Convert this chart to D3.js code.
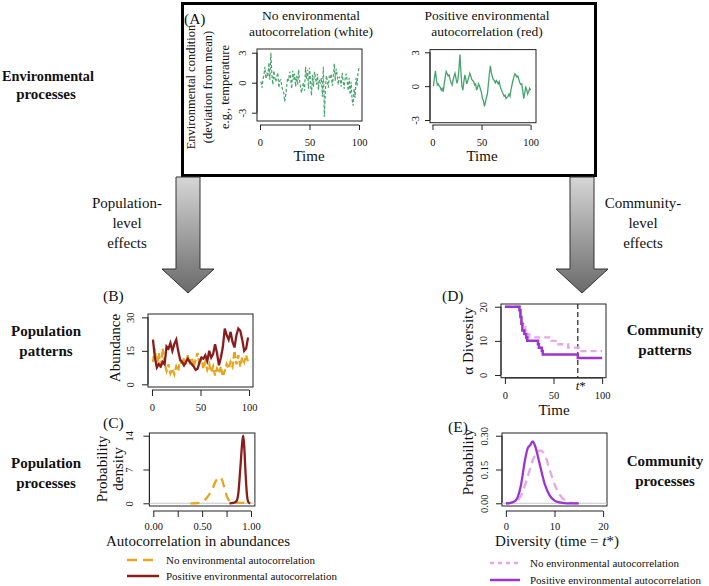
<!DOCTYPE html>
<html><head><meta charset="utf-8">
<script src="https://cdn.jsdelivr.net/npm/d3@7"></script>
<style>
body{margin:0;background:#fff}
svg{display:block}
text{font-family:"Liberation Serif","Times New Roman",serif;fill:#111}
</style>
</head><body>
<svg id="c" width="709" height="586"></svg>
<script>
// ---------- DATA ----------
// Panel A: environmental condition (deviation from mean), time 1..100
const envWhite = [
 0.1,-0.5,0.3,0.8,1.6,0.4,1.0,0.6,2.0,0.3,
 3.0,0.8,-0.2,1.2,0.5,0.1,0.6,1.0,-0.5,0.2,
 0.3,-0.3,-0.8,-1.0,-1.9,-1.2,-0.3,0.5,0.2,1.1,
 0.4,-0.6,1.2,0.3,0.9,-0.4,0.7,-0.2,1.3,0.2,
 -0.5,-1.0,-0.3,0.0,-0.8,1.6,0.4,1.3,-0.6,1.5,
 0.2,-1.3,0.8,-0.4,1.1,0.6,-0.2,0.9,-0.7,0.3,
 -0.1,0.5,-1.4,1.6,-3.4,-0.8,0.7,0.2,-0.5,0.6,
 0.4,0.9,-0.3,0.5,1.9,0.2,1.4,0.8,-0.2,0.6,
 0.3,-0.4,1.0,0.1,-0.6,0.4,0.9,0.2,-0.8,0.5,
 -1.2,0.1,-1.7,-2.3,-0.6,-1.5,0.5,-0.3,1.0,1.5];
const envRed = [
 0.0,0.7,1.35,0.6,0.1,0.2,0.0,-0.1,-0.35,-0.2,
 -0.5,0.2,0.8,1.3,1.1,0.9,1.0,0.6,0.3,0.1,
 0.5,0.9,1.15,0.7,0.25,0.6,1.5,2.8,1.3,0.0,
 -0.35,0.4,1.0,0.6,0.2,0.5,0.8,1.15,0.9,0.6,
 0.5,0.4,0.1,0.2,-0.35,-0.1,0.2,0.0,-0.3,-0.6,
 -1.1,-1.3,-1.8,-1.4,-1.0,-0.7,0.2,1.1,1.8,1.2,
 0.85,0.6,0.5,0.3,0.5,0.4,0.2,0.4,0.0,-0.3,
 -0.5,-0.7,-0.9,-0.8,-1.1,-1.0,-0.9,-0.7,-0.9,-0.3,
 0.1,0.5,0.8,1.1,1.0,0.8,0.9,0.6,0.3,0.15,
 0.2,-0.4,-1.1,-0.6,-0.1,-0.3,-0.7,-0.5,-0.2,-0.35];
const timeTicks = [0,50,100];
const envTicks = [-3,0,3];

// Panel B: abundance over time (every second time step)
const popTimes = [1,3,5,7,9,11,13,15,17,19,21,23,25,27,29,31,33,35,37,39,41,43,45,47,49,
                  51,53,55,57,59,61,63,65,67,69,71,73,75,77,79,81,83,85,87,89,91,93,95,97,99];
const abundNoAuto = [10,16,8,14,7,16,9,6,9,5,7,4.5,8,6,11,8.5,12,9,13,10,12,8,11,14,9,
                     12,7,10,6.5,9,5.5,8,4,7,5,8,3.5,6,9,7,10,8,15,9,13,8,12,10,13,10];
const abundPosAuto = [20,12,7.5,9,8,10,9,17,16,18.5,15,18,20,15,11,10,8.5,10,11.5,10,9,8,6.5,7,9.8,
                      12,11.5,13,10.5,15,12,13.5,18,14,8.5,12,16.6,25,22,20,23.5,19,16.5,22,25,24,20,15,16,21];
const abundTicks = [0,15,30];

// Panel C: probability density of autocorrelation in abundances
const cNoX = [0.38,0.45,0.5,0.55,0.6,0.64,0.67,0.7,0.73,0.76,0.8,0.85,0.9,0.95,1.0];
const cNoY = [0,0.05,0.3,1.2,2.8,4.6,5.4,5.0,3.0,1.1,0.3,0.12,0.1,0.1,0.02];
const cPosX = [0.78,0.82,0.85,0.87,0.89,0.91,0.92,0.93,0.945,0.96,0.975,0.99];
const cPosY = [0,0.1,0.4,2,7,12.5,14,12,6,1.5,0.2,0];
const acTicks = [0,0.25,0.5,0.75,1];
const acLabelled = [0,0.5,1];
const densTicks = [0,7,14];

// Panel D: alpha diversity over time (step changes)
const dPosT = [0,15,16,17,18,20,22,23,34,35,38,39,75,100];
const dPosV = [20,19,17,15,13,12,11,10,9,8,7,6,5,5];
const dNoT  = [0,15,16,17,19,21,23,25,48,55,65,76,100];
const dNoV  = [20,19,17,15,14,13,12,11,10,9,8,7,7];
const tStar = 75;
const divTicks = [0,10,20];

// Panel E: probability of diversity at time t*
const eX    = [0,1,2,3,4,4.5,5,5.5,6,7,8,9,10,11,12,13,14,15];
const ePosY = [0,0.002,0.012,0.07,0.20,0.245,0.258,0.275,0.255,0.17,0.085,0.035,0.012,0.004,0.001,0,0,0];
const eNoY  = [0,0.002,0.008,0.03,0.085,0.12,0.155,0.19,0.212,0.235,0.215,0.15,0.085,0.04,0.015,0.005,0.001,0];
const eXTicks = [0,10,20];
const probTicks = [0,0.15,0.3];

// colours
const GREEN="#46a36b", ORANGE="#e9a41d", DRED="#8b1c1c", PURPLE="#9a35cf", PINK="#e8a5ec";

// ---------- DRAWING ----------
const svg = d3.select("#c");
const SERIF = '"Liberation Serif","Times New Roman",serif';

function panel(c){
  const x = d3.scaleLinear().domain(c.xDom).range([c.x0,c.x1]);
  const y = d3.scaleLinear().domain(c.yDom).range([c.y1,c.y0]);
  const g = svg.append("g");
  const tick = c.tick || 6;
  const ya = g.append("g").attr("transform",`translate(${c.x0},0)`)
    .call(d3.axisLeft(y).tickValues(c.yTicks).tickSize(tick).tickFormat(c.yFmt || (d=>String(d))));
  ya.select(".domain").attr("d",`M0,${y(c.yTicks[0])}V${y(c.yTicks[c.yTicks.length-1])}`);
  ya.selectAll(".tick text").attr("transform","rotate(-90)").attr("x",0).attr("y",-c.yLabD).attr("dy",0).attr("text-anchor","middle");
  const xa = g.append("g").attr("transform",`translate(0,${c.axisY})`)
    .call(d3.axisBottom(x).tickValues(c.xTicks).tickSize(tick).tickFormat(c.xFmt || (d=>String(d))));
  xa.select(".domain").attr("d",`M${x(c.xTicks[0])},0H${x(c.xTicks[c.xTicks.length-1])}`);
  xa.selectAll(".tick text").attr("y",c.xLabBase-c.axisY).attr("dy",0);
  [ya,xa].forEach(a=>{
    a.attr("font-family",SERIF).attr("font-size",10.5);
    a.selectAll("path,line").attr("stroke","#222");
    a.selectAll("text").attr("fill","#111");
  });
  g.append("rect").attr("x",c.x0).attr("y",c.y0).attr("width",c.x1-c.x0).attr("height",c.y1-c.y0)
    .attr("fill","none").attr("stroke","#222").attr("stroke-width",1);
  return {x,y,g};
}
function txt(x,y,s,opt={}){
  const t = svg.append("text").attr("x",x).attr("y",y).attr("text-anchor",opt.anchor||"middle")
    .attr("font-size",opt.size||14).text(s);
  if(opt.bold) t.attr("font-weight","bold");
  if(opt.rot) t.attr("transform",`rotate(-90,${x},${y})`);
  if(opt.italic) t.attr("font-style","italic");
  if(opt.len) t.attr("textLength",opt.len).attr("lengthAdjust","spacingAndGlyphs");
  return t;
}

// ---- Box A ----
svg.append("rect").attr("x",182.5).attr("y",3.5).attr("width",413).attr("height",172)
  .attr("fill","none").attr("stroke","#000").attr("stroke-width",3);
txt(184,24,"(A)",{anchor:"start",size:15.5});
txt(311,20,"No environmental",{size:13.5});
txt(311,36,"autocorrelation (white)",{size:13.5});
txt(487,20,"Positive environmental",{size:13.5});
txt(487,36,"autocorrelation (red)",{size:13.5});
txt(195,87,"Environmental condition",{rot:true,size:12.5});
txt(212,87,"(deviation from mean)",{rot:true,size:12.5});
txt(229,87,"e.g., temperature",{rot:true,size:12.5});

const pA1 = panel({x0:257,x1:362,y0:49,y1:121,xDom:[-3,103],yDom:[-3.83,3.37],
  xTicks:timeTicks,yTicks:envTicks,axisY:125,xLabBase:146,yLabD:11,tick:5});
pA1.g.append("path").datum(envWhite).attr("fill","none").attr("stroke",GREEN).attr("stroke-width",1.2)
  .attr("stroke-dasharray","3,2")
  .attr("d",d3.line().x((d,i)=>pA1.x(i+1)).y(d=>pA1.y(d)));
txt(309,161,"Time",{size:15});

const pA2 = panel({x0:430,x1:536,y0:49.6,y1:122.7,xDom:[-2.5,105.5],yDom:[-3.24,3.24],
  xTicks:timeTicks,yTicks:envTicks,axisY:125,xLabBase:146,yLabD:11,tick:5});
pA2.g.append("path").datum(envRed).attr("fill","none").attr("stroke",GREEN).attr("stroke-width",1.3)
  .attr("d",d3.line().x((d,i)=>pA2.x(i+1)).y(d=>pA2.y(d)));
txt(482,161,"Time",{size:15});

// ---- left / right labels ----
txt(48,81,"Environmental",{bold:true,size:15,len:92});
txt(46,99,"processes",{bold:true,size:15});
txt(46,336,"Population",{bold:true,size:15});
txt(46,356,"patterns",{bold:true,size:15});
txt(46,468,"Population",{bold:true,size:15});
txt(46,488,"processes",{bold:true,size:15});
txt(665,335,"Community",{bold:true,size:15});
txt(665,355,"patterns",{bold:true,size:15});
txt(665,466,"Community",{bold:true,size:15});
txt(665,486,"processes",{bold:true,size:15});

// ---- arrows ----
const defs = svg.append("defs");
const grad = defs.append("linearGradient").attr("id","ag").attr("x1",0).attr("y1",0).attr("x2",0).attr("y2",1);
grad.append("stop").attr("offset","0%").attr("stop-color","#d6d6d6");
grad.append("stop").attr("offset","100%").attr("stop-color","#6a6a6a");
function arrow(cx){
  const sw=12, hw=26, top=177, headTop=269, tip=293;
  svg.append("path").attr("d",`M${cx-sw},${top}H${cx+sw}V${headTop}H${cx+hw}L${cx},${tip}L${cx-hw},${headTop}H${cx-sw}Z`)
    .attr("fill","url(#ag)").attr("stroke","#333").attr("stroke-width",1);
}
arrow(188); arrow(582);
txt(127,208,"Population-",{size:15});
txt(127,228,"level",{size:15});
txt(127,248,"effects",{size:15});
txt(643,208,"Community-",{size:15});
txt(643,228,"level",{size:15});
txt(643,248,"effects",{size:15});

// ---- Panel B ----
txt(103,301,"(B)",{anchor:"start",size:15.5});
const pB = panel({x0:148,x1:253,y0:314,y1:387,xDom:[-4.1,104.1],yDom:[-1.2,31.5],
  xTicks:timeTicks,yTicks:abundTicks,axisY:390,xLabBase:411,yLabD:14});
pB.g.append("path").datum(abundNoAuto).attr("fill","none").attr("stroke",ORANGE).attr("stroke-width",2.3)
  .attr("stroke-dasharray","6,3")
  .attr("d",d3.line().x((d,i)=>pB.x(popTimes[i])).y(d=>pB.y(d)));
pB.g.append("path").datum(abundPosAuto).attr("fill","none").attr("stroke",DRED).attr("stroke-width",2.3)
  .attr("d",d3.line().x((d,i)=>pB.x(popTimes[i])).y(d=>pB.y(d)));
txt(120,348,"Abundance",{rot:true,size:15});

// ---- Panel C ----
txt(103,428,"(C)",{anchor:"start",size:15.5});
const pC = panel({x0:149.4,x1:254.9,y0:433,y1:506,xDom:[-0.04,1.04],yDom:[-0.56,14.56],
  xTicks:acTicks,yTicks:densTicks,axisY:511,xLabBase:530,yLabD:16,
  xFmt:d=>acLabelled.includes(d)?d3.format(".2f")(d):""});
pC.g.append("line").attr("x1",pC.x(-0.04)).attr("x2",pC.x(1.04)).attr("y1",pC.y(0)).attr("y2",pC.y(0))
  .attr("stroke","#c8c8c8").attr("stroke-width",1);
pC.g.append("path").datum(cNoY).attr("fill","none").attr("stroke",ORANGE).attr("stroke-width",2.3)
  .attr("stroke-dasharray","9,6")
  .attr("d",d3.line().curve(d3.curveMonotoneX).x((d,i)=>pC.x(cNoX[i])).y(d=>pC.y(d)));
pC.g.append("path").datum(cPosY).attr("fill","none").attr("stroke",DRED).attr("stroke-width",2.3)
  .attr("d",d3.line().curve(d3.curveMonotoneX).x((d,i)=>pC.x(cPosX[i])).y(d=>pC.y(d)));
txt(107,469,"Probability",{rot:true,size:15});
txt(123,469,"density",{rot:true,size:15});
txt(198,546,"Autocorrelation in abundances",{size:15});

// ---- Panel D ----
txt(442,301,"(D)",{anchor:"start",size:15.5});
const pD = panel({x0:501,x1:606,y0:304,y1:377.7,xDom:[-4,104],yDom:[-0.8,20.8],
  xTicks:timeTicks,yTicks:divTicks,axisY:378,xLabBase:399,yLabD:14});
pD.g.append("line").attr("x1",pD.x(tStar)).attr("x2",pD.x(tStar)).attr("y1",304).attr("y2",377.7)
  .attr("stroke","#222").attr("stroke-width",1.2).attr("stroke-dasharray","5,3");
pD.g.append("path").datum(dNoV).attr("fill","none").attr("stroke",PINK).attr("stroke-width",2.3)
  .attr("stroke-dasharray","6,4")
  .attr("d",d3.line().curve(d3.curveStepAfter).x((d,i)=>pD.x(dNoT[i])).y(d=>pD.y(d)));
pD.g.append("path").datum(dPosV).attr("fill","none").attr("stroke",PURPLE).attr("stroke-width",2.5)
  .attr("d",d3.line().curve(d3.curveStepAfter).x((d,i)=>pD.x(dPosT[i])).y(d=>pD.y(d)));
const ts = svg.append("text").attr("x",pD.x(tStar)+3).attr("y",390).attr("text-anchor","middle").attr("font-size",13);
ts.append("tspan").attr("font-style","italic").text("t");
ts.append("tspan").text("*");
txt(554,415,"Time",{size:15});
txt(473,341,"α  Diversity",{rot:true,size:15});

// ---- Panel E ----
txt(448,432,"(E)",{anchor:"start",size:15.5});
const pE = panel({x0:502,x1:607,y0:433,y1:506,xDom:[-0.8,20.8],yDom:[-0.012,0.312],
  xTicks:eXTicks,yTicks:probTicks,axisY:511,xLabBase:530,yLabD:14,
  yFmt:d3.format(".2f")});
pE.g.append("line").attr("x1",502).attr("x2",607).attr("y1",pE.y(0)).attr("y2",pE.y(0))
  .attr("stroke","#c8c8c8").attr("stroke-width",1);
pE.g.append("path").datum(eNoY).attr("fill","none").attr("stroke",PINK).attr("stroke-width",2.3)
  .attr("stroke-dasharray","8,5")
  .attr("d",d3.line().curve(d3.curveMonotoneX).x((d,i)=>pE.x(eX[i])).y(d=>pE.y(d)));
pE.g.append("path").datum(ePosY).attr("fill","none").attr("stroke",PURPLE).attr("stroke-width",2.3)
  .attr("d",d3.line().curve(d3.curveMonotoneX).x((d,i)=>pE.x(eX[i])).y(d=>pE.y(d)));
txt(473,462,"Probability",{rot:true,size:15});
const dl = svg.append("text").attr("x",557).attr("y",546).attr("text-anchor","middle").attr("font-size",15);
dl.append("tspan").text("Diversity (time = ");
dl.append("tspan").attr("font-style","italic").text("t");
dl.append("tspan").text("*)");

// ---- Legends ----
const legL = [{label:"No environmental autocorrelation",color:ORANGE,dash:"10,6",y:560},
              {label:"Positive environmental autocorrelation",color:DRED,dash:null,y:576}];
legL.forEach(d=>{
  const l = svg.append("line").attr("x1",127).attr("x2",159).attr("y1",d.y).attr("y2",d.y)
    .attr("stroke",d.color).attr("stroke-width",2.5);
  if(d.dash) l.attr("stroke-dasharray",d.dash);
  txt(166,d.y+4,d.label,{anchor:"start",size:11});
});
const legR = [{label:"No environmental autocorrelation",color:PINK,dash:"4,4",y:563},
              {label:"Positive environmental autocorrelation",color:PURPLE,dash:null,y:580}];
legR.forEach(d=>{
  const l = svg.append("line").attr("x1",490).attr("x2",520).attr("y1",d.y).attr("y2",d.y)
    .attr("stroke",d.color).attr("stroke-width",2.5);
  if(d.dash) l.attr("stroke-dasharray",d.dash);
  txt(530,d.y+4,d.label,{anchor:"start",size:11});
});
</script>
</body></html>
